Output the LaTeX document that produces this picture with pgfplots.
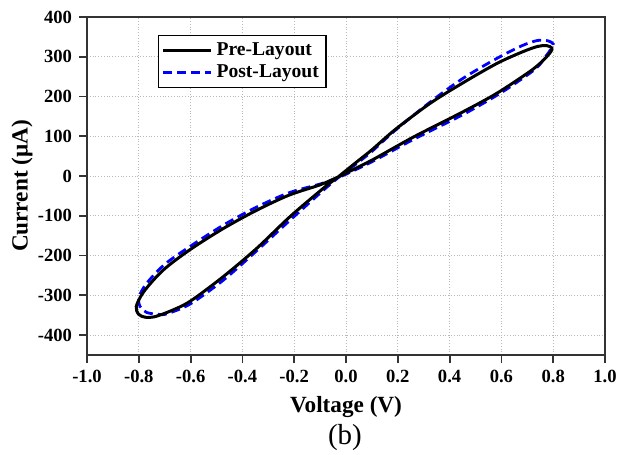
\documentclass[border=0pt]{standalone}
\usepackage{fontspec}
\setmainfont{Liberation Serif}
\usepackage{pgfplots}
\pgfplotsset{compat=1.18}
\definecolor{postblue}{RGB}{0,0,255}
\begin{document}
\begin{tikzpicture}
\useasboundingbox (0,0) rectangle (309.5pt,227pt);
\begin{axis}[
  at={(43.5pt,49.5pt)}, anchor=south west,
  scale only axis, width=259pt, height=169pt,
  xmin=-1, xmax=1, ymin=-450, ymax=400,
  xtick={-1,-0.8,-0.6,-0.4,-0.2,0,0.2,0.4,0.6,0.8,1},
  ytick={-400,-300,-200,-100,0,100,200,300,400},
  grid=major,
  grid style={densely dotted, color=gray!55, line width=0.5pt},
  axis line style={line width=0.9pt, color=black!80},
  tick style={line width=0.9pt, color=black!80},
  tick align=outside,
  xtick pos=lower, ytick pos=left,
  major tick length=4pt,
  /pgf/number format/assume math mode=true,
  tick label style={font=\fontsize{9.3}{11}\selectfont\bfseries},
  xticklabel style={/pgf/number format/.cd, fixed, fixed zerofill, precision=1},
  yticklabel style={/pgf/number format/.cd, fixed, precision=0},
  xlabel={Voltage (V)}, ylabel={Current (μA)},
  label style={font=\fontsize{11.6}{14}\selectfont\bfseries},
  xlabel style={at={(axis description cs:0.5,-0.154)}, anchor=center},
  ylabel style={at={(axis description cs:-0.1255,0.5)}, anchor=center},
  legend style={at={(rel axis cs:0.137,0.947)}, anchor=north west,
    font=\fontsize{9.8}{11}\selectfont\bfseries, draw=black, line width=0.6pt,
    inner sep=1.5pt, row sep=-1pt},
  legend cell align=left,
  legend image code/.code={\draw[#1] (0pt,0pt) -- (24pt,0pt);},
  reverse legend,
  clip=false,
]
% Post-Layout (blue dashed)
\addplot[postblue, line width=1.4pt, dash pattern=on 4.5pt off 2.5pt, smooth, tension=0.5] coordinates {
(-0.03,-4) (0.05,36) (0.10,62) (0.19,115) (0.325,186) (0.45,245) (0.58,295)
(0.68,328) (0.74,341) (0.78,340) (0.80,332) (0.79,318) (0.77,300) (0.736,272)
(0.66,236) (0.58,202) (0.45,154) (0.26,92) (0.10,36) (-0.03,-4)
(-0.10,-20) (-0.22,-42) (-0.345,-78) (-0.47,-122) (-0.60,-176) (-0.70,-222)
(-0.77,-270) (-0.80,-305) (-0.795,-328) (-0.77,-343) (-0.72,-348) (-0.69,-346)
(-0.602,-322) (-0.474,-262) (-0.345,-188) (-0.216,-111) (-0.088,-36) (-0.03,-4)
};
\addlegendentry{Post-Layout}
% Pre-Layout (black solid)
\addplot[black, line width=1.5pt, smooth, tension=0.5] coordinates {
(-0.03,-2) (0.05,40) (0.10,66) (0.19,117) (0.325,183) (0.453,235) (0.582,283)
(0.68,312) (0.74,326) (0.775,328) (0.795,322) (0.79,312) (0.76,290) (0.71,263)
(0.582,208) (0.453,162) (0.26,98) (0.10,40) (-0.03,-2)
(-0.10,-22) (-0.22,-48) (-0.345,-86) (-0.474,-132) (-0.602,-185) (-0.705,-236)
(-0.78,-290) (-0.81,-328) (-0.80,-348) (-0.775,-355) (-0.74,-354) (-0.68,-340)
(-0.602,-315) (-0.474,-253) (-0.345,-182) (-0.216,-102) (-0.088,-31) (-0.03,-2)
};
\addlegendentry{Pre-Layout}
\node[font=\fontsize{14.5}{16}\selectfont] at (rel axis cs:0.498,-0.243) {(b)};
\end{axis}
\end{tikzpicture}
\end{document}
